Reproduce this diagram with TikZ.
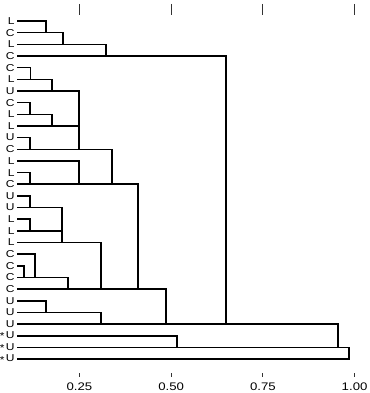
\documentclass[tikz,border=0pt]{standalone}
\usepackage{fontspec}
\setmainfont{Liberation Sans}
\usepackage{tikz}
\usetikzlibrary{positioning}
\newcommand{\wide}[1]{\scalebox{1.2}[1]{#1}}
\newcommand{\starU}{\raisebox{-1.2pt}{*}\hspace{1.2pt}U}

\begin{document}
\begin{tikzpicture}[x=366.8pt, y=-11.66pt,
  branch/.style={line width=1.5pt, line cap=rect},
  tick/.style={line width=0.9pt, black!80},
  leaf/.style={font=\fontsize{10}{11}\selectfont, inner sep=0pt},
  num/.style={font=\fontsize{11}{12}\selectfont, inner sep=0pt}]
\useasboundingbox (0.0333,-1.801) rectangle (1.0393,31.904);
% leaves: label / height where its line ends
\foreach \lab/\e [count=\i from 0] in {L/0.159, C/0.205, L/0.322, C/0.649,
    C/0.117, L/0.175, U/0.249, C/0.115, L/0.175, L/0.249, U/0.115, C/0.339,
    L/0.249, L/0.115, C/0.410, U/0.115, U/0.202, L/0.115, L/0.202, L/0.309,
    C/0.129, C/0.099, C/0.219, C/0.486, U/0.159, U/0.309, U/0.955,
    \starU/0.516, \starU/0.985, \starU/0.985} {
  \coordinate (s\i) at (0.082,\i);
  \coordinate (e\i) at (\e,\i);
  \node[leaf, left=3pt of s\i] (l\i) {\wide{\lab}};
  \draw[branch] (s\i) -- (e\i);
}
% joins: upper cluster / lower cluster
\foreach \a/\b in {0/1, 1/2, 2/3, 3/26, 4/5, 5/6, 6/11, 7/8, 8/9, 10/11,
    11/14, 12/14, 13/14, 14/23, 15/16, 16/19, 17/18, 19/23, 20/22, 21/22,
    22/23, 23/26, 24/25, 25/26, 26/28, 27/28, 28/29}
  \draw[branch] (e\a) -- (e\a |- s\b);
% scale
\foreach \v [count=\k] in {0.25,0.50,0.75,1.00} {
  \draw[tick] (\v,-1.46) -- (\v,-0.51);
  \draw[tick] (\v,30.19) coordinate (a\k) -- (\v,30.54) coordinate (b\k);
  \node[num, below=5.5pt of b\k] (n\k) {\wide{\v}};
}
\end{tikzpicture}
\end{document}
